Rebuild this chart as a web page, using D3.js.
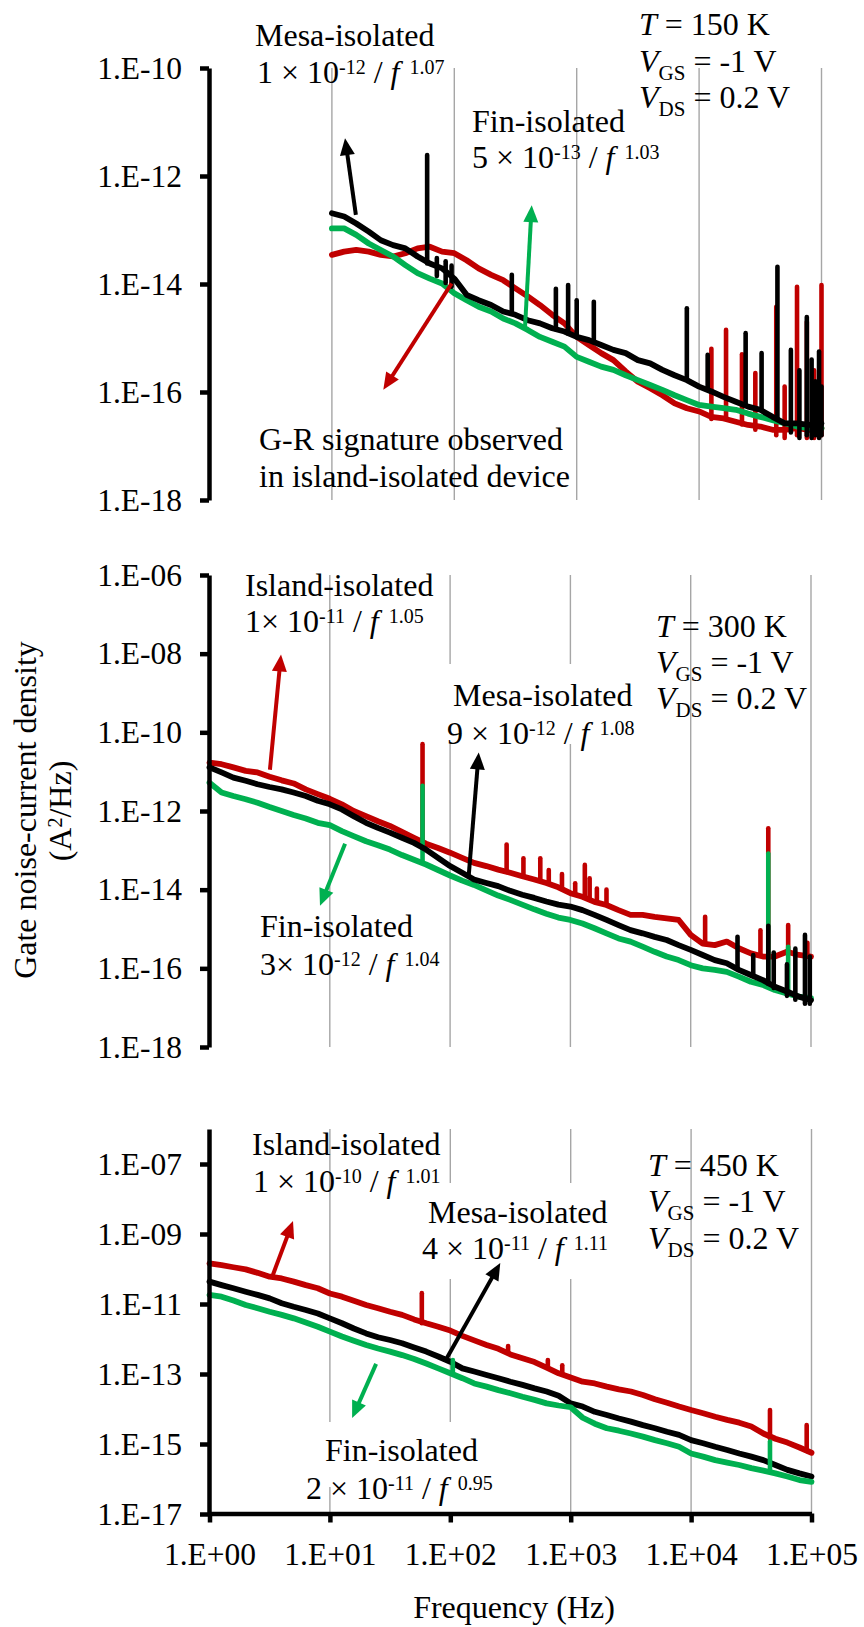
<!DOCTYPE html>
<html>
<head>
<meta charset="utf-8">
<script src="https://cdn.jsdelivr.net/npm/d3@7"></script>
<style>
  html, body { margin: 0; padding: 0; background: #ffffff; }
  svg { display: block; }
  text { font-family: "Liberation Serif", "Times New Roman", serif; fill: #000; white-space: pre; }
</style>
</head>
<body>
<svg id="chart" width="864" height="1627"></svg>
<script>
// ---------------- DATA ----------------
// Frequencies (Hz), 0.1-decade grid
const freqFull = [1, 1.26, 1.58, 2, 2.51, 3.16, 3.98, 5.01, 6.31, 7.94,
  10, 12.6, 15.8, 20, 25.1, 31.6, 39.8, 50.1, 63.1, 79.4,
  100, 126, 158, 200, 251, 316, 398, 501, 631, 794,
  1000, 1259, 1585, 1995, 2512, 3162, 3981, 5012, 6310, 7943,
  10000, 12589, 15849, 19953, 25119, 31623, 39811, 50119, 63096, 79433, 100000];
const freqTop = [10, 12.6, 15.8, 20, 25.1, 31.6, 39.8, 50.1, 63.1, 79.4,
  100, 126, 158, 200, 251, 316, 398, 501, 631, 794,
  1000, 1259, 1585, 1995, 2512, 3162, 3981, 5012, 6310, 7943,
  10000, 12589, 15849, 19953, 25119, 31623, 39811, 50119, 63096, 79433, 100000];

// Gate noise-current density, log10(A^2/Hz)
// T = 150 K
const topIslandLog = [-13.46, -13.40, -13.37, -13.40, -13.46, -13.49, -13.43, -13.34, -13.31, -13.40,
  -13.43, -13.56, -13.71, -13.83, -13.93, -14.08, -14.23, -14.39, -14.57, -14.73,
  -14.98, -15.13, -15.28, -15.41, -15.62, -15.81, -15.93, -16.06, -16.21, -16.30,
  -16.36, -16.46, -16.49, -16.55, -16.61, -16.64, -16.70, -16.70, -16.67, -16.70, -16.67];
const topMesaLog = [-12.69, -12.75, -12.88, -13.03, -13.19, -13.28, -13.34, -13.49, -13.62, -13.71,
  -13.90, -14.20, -14.30, -14.39, -14.51, -14.57, -14.67, -14.73, -14.82, -14.88,
  -14.98, -15.04, -15.13, -15.22, -15.28, -15.41, -15.47, -15.59, -15.69, -15.78,
  -15.90, -15.99, -16.09, -16.18, -16.27, -16.33, -16.46, -16.58, -16.58, -16.61, -16.58];
const topFinLog = [-12.97, -12.97, -13.09, -13.25, -13.37, -13.49, -13.65, -13.80, -13.90, -13.99,
  -14.17, -14.30, -14.42, -14.51, -14.64, -14.73, -14.85, -14.98, -15.07, -15.16,
  -15.35, -15.44, -15.53, -15.59, -15.69, -15.78, -15.87, -15.96, -16.06, -16.15,
  -16.24, -16.27, -16.30, -16.33, -16.40, -16.46, -16.52, -16.58, -16.64, -16.67, -16.67];
// spikes: [frequency, low log10, high log10]
const topIslandSpikes = [[12600, -16.50, -15.20], [16600, -16.49, -14.85], [22400, -16.60, -15.30],
  [28800, -16.70, -15.65], [42700, -16.80, -14.42], [50000, -16.85, -15.90], [63100, -16.80, -14.05],
  [75900, -16.85, -14.70], [87000, -16.85, -15.60], [100000, -16.80, -14.02]];
const topMesaSpikes = [[60, -13.62, -11.61], [72, -13.85, -13.52], [85, -13.98, -13.58], [95, -14.05, -13.66],
  [295, -14.55, -13.83], [676, -14.84, -14.09], [851, -14.92, -14.02], [1000, -14.98, -14.30],
  [1380, -15.08, -14.33], [7940, -15.78, -14.45], [11750, -15.96, -15.31], [24000, -16.24, -14.91],
  [32400, -16.34, -15.28], [43650, -16.49, -13.68], [56200, -16.75, -15.22], [66000, -16.85, -15.60],
  [75860, -16.80, -14.61], [83000, -16.85, -15.40], [89000, -16.80, -15.80], [95500, -16.85, -15.25],
  [100000, -16.80, -15.90]];

// T = 300 K
const midIslandLog = [-10.77, -10.81, -10.89, -10.98, -11.02, -11.13, -11.22, -11.30, -11.45, -11.57,
  -11.69, -11.83, -12.00, -12.13, -12.26, -12.38, -12.53, -12.68, -12.83, -12.94,
  -13.06, -13.19, -13.32, -13.40, -13.49, -13.57, -13.66, -13.74, -13.83, -13.94,
  -14.09, -14.18, -14.31, -14.39, -14.52, -14.64, -14.64, -14.69, -14.73, -14.77,
  -15.15, -15.37, -15.41, -15.32, -15.49, -15.62, -15.70, -15.70, -15.58, -15.66, -15.70];
const midMesaLog = [-10.89, -11.02, -11.15, -11.23, -11.32, -11.39, -11.45, -11.53, -11.62, -11.74,
  -11.83, -11.96, -12.13, -12.30, -12.43, -12.55, -12.68, -12.81, -12.98, -13.19,
  -13.40, -13.57, -13.74, -13.83, -13.91, -14.03, -14.13, -14.21, -14.30, -14.38,
  -14.43, -14.52, -14.64, -14.77, -14.90, -15.03, -15.11, -15.20, -15.28, -15.41,
  -15.53, -15.66, -15.79, -15.87, -16.04, -16.17, -16.30, -16.47, -16.59, -16.72, -16.81];
const midFinLog = [-11.28, -11.53, -11.62, -11.70, -11.79, -11.90, -12.00, -12.10, -12.19, -12.30,
  -12.36, -12.51, -12.64, -12.77, -12.87, -12.98, -13.12, -13.24, -13.36, -13.50,
  -13.64, -13.77, -13.88, -14.02, -14.15, -14.26, -14.38, -14.50, -14.61, -14.71,
  -14.77, -14.86, -14.98, -15.11, -15.24, -15.32, -15.45, -15.58, -15.70, -15.79,
  -15.92, -16.00, -16.04, -16.09, -16.21, -16.34, -16.42, -16.55, -16.64, -16.72, -16.76];
const midIslandSpikes = [[59, -12.75, -10.30], [295, -13.55, -12.85], [407, -13.67, -13.20],
  [562, -13.78, -13.20], [661, -13.85, -13.50], [851, -13.97, -13.60], [1096, -14.12, -13.84],
  [1318, -14.20, -13.37], [1445, -14.25, -13.71], [1660, -14.32, -13.97], [1995, -14.39, -14.00],
  [13180, -15.38, -14.69], [38000, -15.68, -15.03], [44150, -15.70, -12.44], [64600, -15.60, -14.90],
  [93300, -15.65, -15.35]];
const midFinSpikes = [[59, -13.30, -11.36], [44150, -16.45, -13.08], [64600, -16.62, -15.45]];
const midMesaSpikes = [[24500, -16.00, -15.20], [33100, -16.20, -15.66], [44150, -16.40, -14.92],
  [49000, -16.50, -15.60], [63100, -16.70, -15.90], [74100, -16.80, -15.50], [89100, -16.90, -15.15],
  [97700, -16.90, -15.70]];

// T = 450 K
const botIslandLog = [-9.84, -9.89, -9.95, -10.01, -10.11, -10.22, -10.27, -10.36, -10.46, -10.55,
  -10.70, -10.79, -10.91, -11.03, -11.12, -11.22, -11.31, -11.44, -11.55, -11.65,
  -11.76, -11.91, -12.04, -12.17, -12.28, -12.44, -12.55, -12.66, -12.82, -12.98,
  -13.10, -13.22, -13.27, -13.36, -13.44, -13.50, -13.60, -13.72, -13.82, -13.93,
  -14.03, -14.12, -14.22, -14.31, -14.39, -14.50, -14.70, -14.85, -14.96, -15.10, -15.25];
const botMesaLog = [-10.36, -10.46, -10.55, -10.65, -10.74, -10.84, -10.98, -11.08, -11.17, -11.27,
  -11.41, -11.55, -11.70, -11.84, -11.95, -12.03, -12.12, -12.24, -12.36, -12.50,
  -12.65, -12.84, -12.93, -13.03, -13.12, -13.22, -13.31, -13.41, -13.50, -13.62,
  -13.84, -13.93, -14.08, -14.17, -14.27, -14.36, -14.46, -14.55, -14.65, -14.74,
  -14.89, -14.98, -15.08, -15.17, -15.27, -15.36, -15.46, -15.60, -15.74, -15.84, -15.93];
const botFinLog = [-10.74, -10.79, -10.90, -11.03, -11.12, -11.22, -11.31, -11.41, -11.53, -11.65,
  -11.79, -11.93, -12.05, -12.17, -12.27, -12.36, -12.46, -12.57, -12.70, -12.84,
  -12.98, -13.12, -13.27, -13.36, -13.46, -13.55, -13.65, -13.74, -13.84, -13.90,
  -13.95, -14.25, -14.42, -14.55, -14.62, -14.70, -14.79, -14.89, -14.98, -15.08,
  -15.27, -15.36, -15.46, -15.53, -15.60, -15.69, -15.76, -15.84, -15.93, -16.03, -16.08];
const botIslandSpikes = [[58, -11.55, -10.69], [302, -12.40, -12.20], [646, -12.80, -12.60],
  [851, -12.95, -12.75], [45200, -14.84, -14.03], [91200, -15.20, -14.46]];
const botFinSpikes = [[105, -12.95, -12.60], [45200, -15.75, -14.93]];

// annotation arrows: [tail f, tail log10, tip f, tip log10]
const topArrowMesa = [15.7, -12.72, 12.8, -11.30];
const topArrowFin = [378, -14.81, 429, -12.54];
const topArrowIsland = [95, -13.99, 26.3, -15.96];
const midArrowIsland = [3.18, -10.95, 3.93, -8.02];
const midArrowMesa = [143, -13.62, 173, -10.51];
const midArrowFin = [13.4, -12.83, 8.29, -14.41];
const botArrowIsland = [3.31, -10.23, 4.94, -8.63];
const botArrowMesa = [90.7, -12.63, 260, -9.83];
const botArrowFin = [24.2, -12.71, 15.3, -14.26];

// axes ticks
const gridFreqs = [10, 100, 1000, 10000, 100000];
const xTicks = [1, 10, 100, 1000, 10000, 100000];
const xTickLabels = ["1.E+00", "1.E+01", "1.E+02", "1.E+03", "1.E+04", "1.E+05"];
const topYTicks = [1e-18, 1e-16, 1e-14, 1e-12, 1e-10];
const topYLabels = ["1.E-18", "1.E-16", "1.E-14", "1.E-12", "1.E-10"];
const midYTicks = [1e-18, 1e-16, 1e-14, 1e-12, 1e-10, 1e-8, 1e-6];
const midYLabels = ["1.E-18", "1.E-16", "1.E-14", "1.E-12", "1.E-10", "1.E-08", "1.E-06"];
const botYTicks = [1e-17, 1e-15, 1e-13, 1e-11, 1e-9, 1e-7];
const botYLabels = ["1.E-17", "1.E-15", "1.E-13", "1.E-11", "1.E-09", "1.E-07"];

// ---------------- DRAWING ----------------
const RED = "#C00000", GREEN = "#00B050", BLACK = "#000000", GRID = "#a6a6a6";
const svg = d3.select("#chart");
svg.append("rect").attr("width", 864).attr("height", 1627).attr("fill", "#fff");

const xTop = d3.scaleLog().domain([1, 1e5]).range([209.5, 821.5]);
const xMid = d3.scaleLog().domain([1, 1e5]).range([209.5, 811]);
const xBot = d3.scaleLog().domain([1, 1e5]).range([209.5, 811.5]);
const yTop = d3.scaleLog().domain([1e-18, 1e-10]).range([500, 68]);
const yMid = d3.scaleLog().domain([1e-18, 1e-6]).range([1047, 575]);
const yBot = d3.scaleLog().domain([1e-17, 1e-6]).range([1514, 1129]);

function richText(g, x, y, parts, size) {
  size = size || 32;
  const t = g.append("text").attr("x", x).attr("y", y).style("font-size", size + "px");
  let shift = 0;
  parts.forEach(p => {
    const str = p[0], kind = p[1];
    const ts = t.append("tspan").text(str);
    let target = 0, fs = size;
    if (kind === "sup") { target = -9; fs = 20; }
    if (kind === "sub") { target = 8; fs = 21; }
    if (kind === "i") ts.style("font-style", "italic");
    if (target !== shift) { ts.attr("dy", target - shift); shift = target; }
    if (p[2]) ts.attr("dx", p[2]);
    ts.style("font-size", fs + "px");
  });
  return t;
}

function arrow(g, x, y, a, color) {
  const x1 = x(a[0]), y1 = y(Math.pow(10, a[1]));
  const x2 = x(a[2]), y2 = y(Math.pow(10, a[3]));
  const ang = Math.atan2(y2 - y1, x2 - x1);
  const L = 17, W = 7.5;
  const bx = x2 - L * Math.cos(ang), by = y2 - L * Math.sin(ang);
  g.append("line").attr("x1", x1).attr("y1", y1)
    .attr("x2", x2 - (L - 2) * Math.cos(ang)).attr("y2", y2 - (L - 2) * Math.sin(ang))
    .attr("stroke", color).attr("stroke-width", 4);
  const px = -Math.sin(ang), py = Math.cos(ang);
  g.append("path")
    .attr("d", `M${x2},${y2}L${bx + W * px},${by + W * py}L${bx - W * px},${by - W * py}Z`)
    .attr("fill", color);
}

function panel(cfg) {
  const g = svg.append("g");
  const [yb, yt] = cfg.y.range();
  // gridlines
  g.append("g").selectAll("line").data(gridFreqs).join("line")
    .attr("x1", d => cfg.x(d)).attr("x2", d => cfg.x(d))
    .attr("y1", yt).attr("y2", yb)
    .attr("stroke", GRID).attr("stroke-width", 1.4);
  // white label backgrounds
  (cfg.boxes || []).forEach(b => {
    g.append("rect").attr("x", b[0]).attr("y", b[1]).attr("width", b[2]).attr("height", b[3]).attr("fill", "#fff");
  });
  const line = d3.line().x(d => cfg.x(d[0])).y(d => cfg.y(Math.pow(10, d[1])));
  cfg.series.forEach(s => {
    const pts = s.freq.map((f, i) => [f, s.vals[i]]);
    g.append("path").datum(pts).attr("d", line)
      .attr("fill", "none").attr("stroke", s.color).attr("stroke-width", 5.8)
      .attr("stroke-linejoin", "round").attr("stroke-linecap", "round");
    (s.spikes || []).forEach(sp => {
      g.append("path").datum([[sp[0], sp[1]], [sp[0], sp[2]]]).attr("d", line)
        .attr("fill", "none").attr("stroke", s.color).attr("stroke-width", 4.6)
        .attr("stroke-linecap", "round");
    });
  });
  // y axis
  const ax = d3.axisLeft(cfg.y).tickValues(cfg.ticks).tickFormat((d, i) => cfg.labels[i])
    .tickSize(9).tickPadding(18).tickSizeOuter(0);
  const ag = g.append("g").attr("transform", "translate(209,0)").call(ax);
  ag.select(".domain").attr("stroke", "#000").attr("stroke-width", 4.5);
  ag.selectAll(".tick line").attr("stroke", "#000").attr("stroke-width", 4.5);
  ag.selectAll(".tick text").style("font-size", "31.5px")
    .style("font-family", '"Liberation Serif", "Times New Roman", serif').attr("fill", "#000");
  return g;
}

// ---- Top panel (150 K)
const gTop = panel({
  x: xTop, y: yTop, ticks: topYTicks, labels: topYLabels,
  series: [
    { freq: freqTop, vals: topIslandLog, color: RED, spikes: topIslandSpikes },
    { freq: freqTop, vals: topFinLog, color: GREEN },
    { freq: freqTop, vals: topMesaLog, color: BLACK, spikes: topMesaSpikes }
  ]
});
arrow(gTop, xTop, yTop, topArrowMesa, BLACK);
arrow(gTop, xTop, yTop, topArrowFin, GREEN);
arrow(gTop, xTop, yTop, topArrowIsland, RED);
richText(gTop, 255, 46, [["Mesa-isolated"]]);
richText(gTop, 257, 83, [["1 × 10"], ["-12", "sup"], [" / "], ["f", "i"], [" "], ["1.07", "sup", 2]]);
richText(gTop, 472, 132, [["Fin-isolated"]]);
richText(gTop, 472, 168, [["5 × 10"], ["-13", "sup"], [" / "], ["f", "i"], [" "], ["1.03", "sup", 2]]);
richText(gTop, 639, 35, [["T", "i"], [" = 150 K"]]);
richText(gTop, 639, 72, [["V", "i"], ["GS", "sub"], [" = -1 V"]]);
richText(gTop, 639, 108, [["V", "i"], ["DS", "sub"], [" = 0.2 V"]]);
richText(gTop, 259, 450, [["G-R signature observed"]]);
richText(gTop, 259, 487, [["in island-isolated device"]]);

// ---- Middle panel (300 K)
const gMid = panel({
  x: xMid, y: yMid, ticks: midYTicks, labels: midYLabels,
  boxes: [[440, 664, 196, 80]],
  series: [
    { freq: freqFull, vals: midIslandLog, color: RED, spikes: midIslandSpikes },
    { freq: freqFull, vals: midFinLog, color: GREEN, spikes: midFinSpikes },
    { freq: freqFull, vals: midMesaLog, color: BLACK, spikes: midMesaSpikes }
  ]
});
arrow(gMid, xMid, yMid, midArrowIsland, RED);
arrow(gMid, xMid, yMid, midArrowMesa, BLACK);
arrow(gMid, xMid, yMid, midArrowFin, GREEN);
richText(gMid, 245, 596, [["Island-isolated"]]);
richText(gMid, 245, 632, [["1× 10"], ["-11", "sup"], [" / "], ["f", "i"], [" "], ["1.05", "sup", 2]]);
richText(gMid, 453, 706, [["Mesa-isolated"]]);
richText(gMid, 447, 744, [["9 × 10"], ["-12", "sup"], [" / "], ["f", "i"], [" "], ["1.08", "sup", 2]]);
richText(gMid, 656, 637, [["T", "i"], [" = 300 K"]]);
richText(gMid, 656, 673, [["V", "i"], ["GS", "sub"], [" = -1 V"]]);
richText(gMid, 656, 709, [["V", "i"], ["DS", "sub"], [" = 0.2 V"]]);
richText(gMid, 260, 937, [["Fin-isolated"]]);
richText(gMid, 260, 975, [["3× 10"], ["-12", "sup"], [" / "], ["f", "i"], [" "], ["1.04", "sup", 2]]);

// ---- Bottom panel (450 K)
const gBot = panel({
  x: xBot, y: yBot, ticks: botYTicks, labels: botYLabels,
  boxes: [[418, 1183, 197, 96], [318, 1422, 187, 65], [338, 1487, 167, 25]],
  series: [
    { freq: freqFull, vals: botIslandLog, color: RED, spikes: botIslandSpikes },
    { freq: freqFull, vals: botMesaLog, color: BLACK },
    { freq: freqFull, vals: botFinLog, color: GREEN, spikes: botFinSpikes }
  ]
});
const xAx = d3.axisBottom(xBot).tickValues(xTicks).tickFormat((d, i) => xTickLabels[i])
  .tickSize(9).tickPadding(20.5).tickSizeOuter(0);
const xg = gBot.append("g").attr("transform", "translate(0,1513.5)").call(xAx);
xg.select(".domain").attr("stroke", "#000").attr("stroke-width", 4.5);
xg.selectAll(".tick line").attr("stroke", "#000").attr("stroke-width", 4.5);
xg.selectAll(".tick text").style("font-size", "31.5px")
  .style("font-family", '"Liberation Serif", "Times New Roman", serif').attr("fill", "#000");
arrow(gBot, xBot, yBot, botArrowIsland, RED);
arrow(gBot, xBot, yBot, botArrowMesa, BLACK);
arrow(gBot, xBot, yBot, botArrowFin, GREEN);
richText(gBot, 252, 1155, [["Island-isolated"]]);
richText(gBot, 253, 1192, [["1 × 10"], ["-10", "sup"], [" / "], ["f", "i"], [" "], ["1.01", "sup", 2]]);
richText(gBot, 428, 1223, [["Mesa-isolated"]]);
richText(gBot, 422, 1259, [["4 × 10"], ["-11", "sup"], [" / "], ["f", "i"], [" "], ["1.11", "sup", 2]]);
richText(gBot, 648, 1176, [["T", "i"], [" = 450 K"]]);
richText(gBot, 648, 1212, [["V", "i"], ["GS", "sub"], [" = -1 V"]]);
richText(gBot, 648, 1249, [["V", "i"], ["DS", "sub"], [" = 0.2 V"]]);
richText(gBot, 325, 1461, [["Fin-isolated"]]);
richText(gBot, 306, 1499, [["2 × 10"], ["-11", "sup"], [" / "], ["f", "i"], [" "], ["0.95", "sup", 2]]);

// ---- Axis titles
svg.append("text").attr("transform", "translate(36,810) rotate(-90)")
  .attr("text-anchor", "middle").style("font-size", "32px").text("Gate noise-current density");
const yt2 = svg.append("text").attr("transform", "translate(71,811) rotate(-90)")
  .attr("text-anchor", "middle").style("font-size", "32px");
yt2.append("tspan").text("(A");
yt2.append("tspan").attr("dy", -9).style("font-size", "20px").text("2");
yt2.append("tspan").attr("dy", 9).text("/Hz)");
svg.append("text").attr("x", 514).attr("y", 1618).attr("text-anchor", "middle")
  .style("font-size", "32px").text("Frequency (Hz)");
</script>
</body>
</html>
